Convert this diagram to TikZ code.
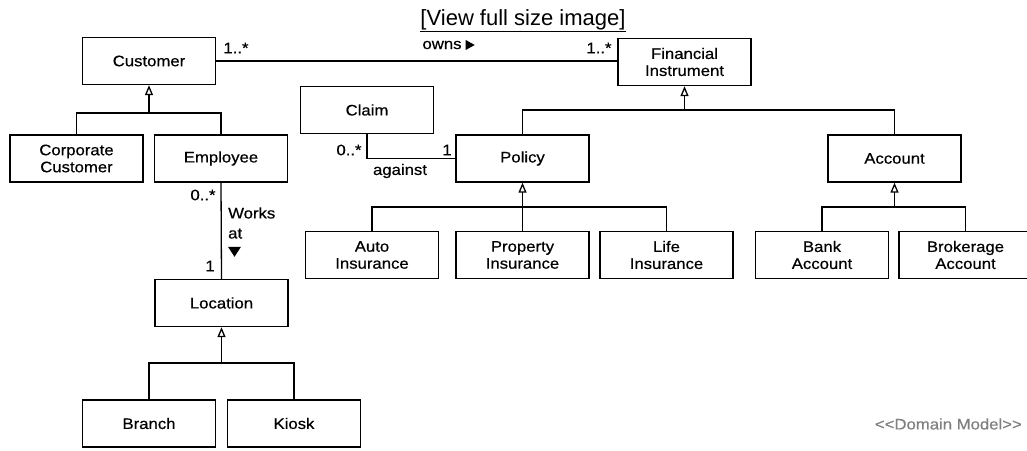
\documentclass[tikz,border=0pt]{standalone}
\usepackage{fontspec}
\setmainfont[FakeStretch=1.1,UprightFeatures={FakeBold=0.5}]{Liberation Sans}
\newfontfamily\linkfont{Liberation Sans}
\usetikzlibrary{arrows.meta}

\begin{document}
\begin{tikzpicture}[x=1pt,y=-1pt,
    classbox/.style={draw,line width=1.4pt,minimum width=133pt,minimum height=47pt,
      inner sep=2pt,align=center,font=\fontsize{15.2}{17}\selectfont},
    role/.style={inner sep=0pt,font=\fontsize{15.2}{17}\selectfont},
    assoc/.style={line width=1.3pt},
    isa/.style={line width=1.3pt,-{Triangle[open,length=10pt,width=8pt]}}]
    \useasboundingbox (0,0) rectangle (1027,450);

    % classes
    \node[classbox] (Cust)   at (149,61)    {Customer};
    \node[classbox] (Fin)    at (684.5,62)  {Financial\\Instrument};
    \node[classbox] (Corp)   at (76.5,158.5) {Corporate\\Customer};
    \node[classbox] (Emp)    at (221,158.5) {Employee};
    \node[classbox] (Claim)  at (367,110)   {Claim};
    \node[classbox] (Pol)    at (522.5,158.5) {Policy};
    \node[classbox] (Acct)   at (894.5,158.5) {Account};
    \node[classbox] (Auto)   at (372,255)   {Auto\\Insurance};
    \node[classbox] (Prop)   at (522.5,255) {Property\\Insurance};
    \node[classbox] (Life)   at (666.5,255) {Life\\Insurance};
    \node[classbox] (Bank)   at (822,255)   {Bank\\Account};
    \node[classbox] (Broker) at (965.5,255) {Brokerage\\Account};
    \node[classbox] (Loc)    at (221.5,303) {Location};
    \node[classbox] (Branch) at (149,423.5) {Branch};
    \node[classbox] (Kiosk)  at (294,423.5) {Kiosk};

    % where the sub classes meet
    \coordinate (bar-Cust) at (149,113);
    \coordinate (bar-Fin)  at (684.5,110);
    \coordinate (bar-Pol)  at (522.5,207);
    \coordinate (bar-Acct) at (894.5,207);
    \coordinate (bar-Loc)  at (221.5,363);
    \foreach \mom/\kids in {Cust/{Corp,Emp},Fin/{Pol,Acct},Pol/{Auto,Prop,Life},
        Acct/{Bank,Broker},Loc/{Branch,Kiosk}}{%
      \foreach \kid in \kids
        \draw[assoc] (\kid.north) |- (bar-\mom);
      \draw[isa] (bar-\mom) -- (\mom.south);
    }

    % associations
    \draw[assoc] (Cust.east) -- (Cust.east -| Fin.west);
    \draw[assoc] (Claim.south) |- (Pol.west);
    \draw[assoc] (Emp.south) -- (Loc.north);

    \node[role] (CustMult)  at (236,48)  {1..*};
    \node[role] (Owns)      at (442,45)  {owns};
    \fill (Owns.east) ++(4,-5) -- ++(0,10) -- ++(9,-5) -- cycle;
    \node[role] (FinMult)   at (599,48)  {1..*};
    \node[role] (ClaimMult) at (349,150) {0..*};
    \node[role] (PolMult)   at (447,150) {1};
    \node[role] (Against)   at (400,171) {against};
    \node[role] (EmpMult)   at (203,195) {0..*};
    \node[role,anchor=west,align=left,font=\fontsize{15.2}{20}\selectfont]
        (WorksAt) at (228,223) {Works\\at};
    \fill (WorksAt.south west) ++(0,8) -- ++(13,0) -- ++(-6.5,10) -- cycle;
    \node[role] (LocMult)   at (210,266) {1};

    \node[role,anchor=east,text=gray] (Stereo) at (1022,424)
        {<\kern0pt<Domain Model>\kern0pt>};
    \node[inner sep=0pt,font=\linkfont\fontsize{22}{24}\selectfont] (Link)
        at (523,21) {\underline{[View full size image]}};
\end{tikzpicture}
\end{document}
